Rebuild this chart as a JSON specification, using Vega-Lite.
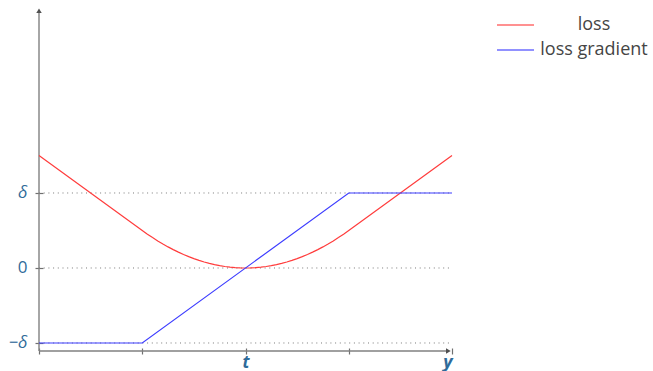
{
  "$schema": "https://vega.github.io/schema/vega-lite/v6.json",
  "autosize": {"type": "none"},
  "width": 413,
  "height": 345,
  "padding": {"left": 39, "top": 6, "right": 201, "bottom": 20},
  "background": "white",
  "config": {"view": {"stroke": null}},
  "encoding": {
    "x": {
      "field": "x",
      "type": "quantitative",
      "scale": {"domain": [-2, 2], "nice": false, "zero": false},
      "axis": {
        "title": null,
        "grid": false,
        "domain": false,
        "offset": -3,
        "values": [-2, -1, 0, 1, 2],
        "tickSize": 6,
        "tickColor": "#707070",
        "tickWidth": 1.2,
        "labelExpr": "datum.value == 0 ? 't' : datum.value == 2 ? 'y' : ''",
        "labelFont": "Open Sans",
        "labelFontStyle": "italic",
        "labelFontWeight": "bold",
        "labelFontSize": {"condition": {"test": "datum.value == 2", "value": 18}, "value": 17},
        "labelColor": "#2f6b9a",
        "labelBaseline": "alphabetic",
        "labelPadding": 13
      }
    },
    "y": {
      "field": "y",
      "type": "quantitative",
      "scale": {"domain": [-1.1067, 3.4933], "nice": false, "zero": false},
      "axis": {
        "title": null,
        "grid": false,
        "domain": false,
        "offset": -4,
        "values": [-1, 0, 1],
        "tickSize": 8,
        "tickColor": "#707070",
        "tickWidth": 1.2,
        "labelExpr": "datum.value == 1 ? 'δ' : datum.value == -1 ? '−δ' : '0'",
        "labelFont": "Open Sans",
        "labelFontStyle": {"condition": {"test": "datum.value == 0", "value": "normal"}, "value": "italic"},
        "labelFontSize": 17,
        "labelColor": "#2f6b9a",
        "labelPadding": 8
      }
    }
  },
  "layer": [
    {
      "data": {"values": [
        {"x": -2, "x2": 2, "y": -1},
        {"x": -2, "x2": 2, "y": 0},
        {"x": -2, "x2": 2, "y": 1}
      ]},
      "mark": {"type": "rule", "color": "#7a7a7a", "strokeWidth": 1, "strokeDash": [1, 3.7]},
      "encoding": {"x2": {"field": "x2"}}
    },
    {
      "data": {"values": [
        {"x": -2, "y": -1.1067, "x2": -2, "y2": 3.44},
        {"x": -2, "y": -1.1067, "x2": 1.97, "y2": -1.1067}
      ]},
      "mark": {"type": "rule", "color": "#808080", "strokeWidth": 1.4},
      "encoding": {"x2": {"field": "x2"}, "y2": {"field": "y2"}}
    },
    {
      "data": {"values": [{"x": -2, "y": 3.43}]},
      "mark": {"type": "point", "shape": "triangle-up", "filled": true, "color": "#505050", "size": 30, "opacity": 1}
    },
    {
      "data": {"values": [{"x": 1.965, "y": -1.1067}]},
      "mark": {"type": "point", "shape": "triangle-right", "filled": true, "color": "#505050", "size": 30, "opacity": 1}
    },
    {
      "data": {"values": [
        {"s": "loss", "x": -2, "y": 1.5},
        {"s": "loss", "x": -1, "y": 0.5},
        {"s": "loss", "x": -0.95, "y": 0.45125},
        {"s": "loss", "x": -0.9, "y": 0.405},
        {"s": "loss", "x": -0.85, "y": 0.36125},
        {"s": "loss", "x": -0.8, "y": 0.32},
        {"s": "loss", "x": -0.75, "y": 0.28125},
        {"s": "loss", "x": -0.7, "y": 0.245},
        {"s": "loss", "x": -0.65, "y": 0.21125},
        {"s": "loss", "x": -0.6, "y": 0.18},
        {"s": "loss", "x": -0.55, "y": 0.15125},
        {"s": "loss", "x": -0.5, "y": 0.125},
        {"s": "loss", "x": -0.45, "y": 0.10125},
        {"s": "loss", "x": -0.4, "y": 0.08},
        {"s": "loss", "x": -0.35, "y": 0.06125},
        {"s": "loss", "x": -0.3, "y": 0.045},
        {"s": "loss", "x": -0.25, "y": 0.03125},
        {"s": "loss", "x": -0.2, "y": 0.02},
        {"s": "loss", "x": -0.15, "y": 0.01125},
        {"s": "loss", "x": -0.1, "y": 0.005},
        {"s": "loss", "x": -0.05, "y": 0.00125},
        {"s": "loss", "x": 0, "y": 0},
        {"s": "loss", "x": 0.05, "y": 0.00125},
        {"s": "loss", "x": 0.1, "y": 0.005},
        {"s": "loss", "x": 0.15, "y": 0.01125},
        {"s": "loss", "x": 0.2, "y": 0.02},
        {"s": "loss", "x": 0.25, "y": 0.03125},
        {"s": "loss", "x": 0.3, "y": 0.045},
        {"s": "loss", "x": 0.35, "y": 0.06125},
        {"s": "loss", "x": 0.4, "y": 0.08},
        {"s": "loss", "x": 0.45, "y": 0.10125},
        {"s": "loss", "x": 0.5, "y": 0.125},
        {"s": "loss", "x": 0.55, "y": 0.15125},
        {"s": "loss", "x": 0.6, "y": 0.18},
        {"s": "loss", "x": 0.65, "y": 0.21125},
        {"s": "loss", "x": 0.7, "y": 0.245},
        {"s": "loss", "x": 0.75, "y": 0.28125},
        {"s": "loss", "x": 0.8, "y": 0.32},
        {"s": "loss", "x": 0.85, "y": 0.36125},
        {"s": "loss", "x": 0.9, "y": 0.405},
        {"s": "loss", "x": 0.95, "y": 0.45125},
        {"s": "loss", "x": 1, "y": 0.5},
        {"s": "loss", "x": 2, "y": 1.5},
        {"s": "loss gradient", "x": -2, "y": -1},
        {"s": "loss gradient", "x": -1, "y": -1},
        {"s": "loss gradient", "x": 1, "y": 1},
        {"s": "loss gradient", "x": 2, "y": 1}
      ]},
      "mark": {"type": "line", "strokeWidth": 1.2},
      "encoding": {
        "color": {
          "field": "s",
          "type": "nominal",
          "scale": {"domain": ["loss", "loss gradient"], "range": ["#ff3c3c", "#3c3cff"]},
          "legend": {
            "title": null,
            "orient": "none",
            "legendX": 457,
            "legendY": 9,
            "symbolType": "stroke",
            "symbolSize": 1369,
            "symbolStrokeWidth": 1.3,
            "symbolOpacity": 0.75,
            "clipHeight": 20,
            "rowPadding": 5,
            "labelAlign": "center",
            "labelOffset": 59,
            "labelFont": "Open Sans",
            "labelFontSize": 18,
            "labelColor": "#454545",
            "labelLimit": 300
          }
        }
      }
    }
  ]
}
